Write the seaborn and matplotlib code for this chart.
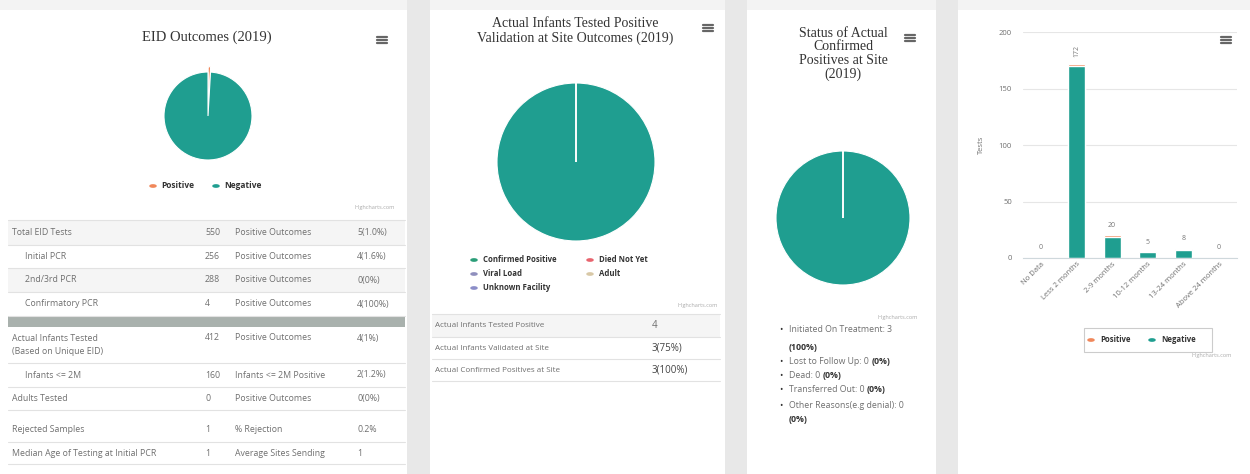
import numpy as np
import pandas as pd
import seaborn as sns
import matplotlib
matplotlib.use("Agg")
import matplotlib.pyplot as plt
from matplotlib.patches import Rectangle, Circle
from matplotlib.lines import Line2D
from matplotlib.transforms import offset_copy

# ---------------------------------------------------------------- data
eid_labels = ["Positive", "Negative"]
eid_values = [5, 545]

val_labels = ["Confirmed Positive", "Died Not Yet", "Viral Load", "Adult", "Unknown Facility"]
val_values = [4, 0, 0, 0, 0]

status_labels = ["Initiated On Treatment", "Lost to Follow Up", "Dead", "Transferred Out",
                 "Other Reasons(e.g denial)"]
status_values = [3, 0, 0, 0, 0]
status_text = ["Initiated On Treatment: 3 ", "Lost to Follow Up: 0 ", "Dead: 0 ",
               "Transferred Out: 0 ", "Other Reasons(e.g denial): 0 "]
status_pct = ["(100%)", "(0%)", "(0%)", "(0%)", "(0%)"]

age_cats = ["No Data", "Less 2 months", "2-9 months", "10-12 months", "13-24 months", "Above 24 months"]
age_pos = [0, 2, 1, 0, 1, 0]
age_neg = [0, 170, 19, 5, 7, 0]

tbl_label = ["Total EID Tests", "Initial PCR", "2nd/3rd PCR", "Confirmatory PCR",
             "Actual Infants Tested\n(Based on Unique EID)", "Infants <= 2M", "Adults Tested",
             "Rejected Samples", "Median Age of Testing at Initial PCR"]
tbl_num = ["550", "256", "288", "4", "412", "160", "0", "1", "1"]
tbl_label2 = ["Positive Outcomes", "Positive Outcomes", "Positive Outcomes", "Positive Outcomes",
              "Positive Outcomes", "Infants <= 2M Positive", "Positive Outcomes", "% Rejection",
              "Average Sites Sending"]
tbl_val = ["5(1.0%)", "4(1.6%)", "0(0%)", "4(100%)", "4(1%)", "2(1.2%)", "0(0%)", "0.2%", "1"]

site_label = ["Actual Infants Tested Positive", "Actual Infants Validated at Site",
              "Actual Confirmed Positives at Site"]
site_val = ["4", "3(75%)", "3(100%)"]

# ---------------------------------------------------------------- style
TEAL = "#1f9e90"
ORANGE = "#f0875a"
leg_colors = ["#2a9d78", "#e8646e", "#8f8fbd", "#d8c8a6", "#8b8dc8"]
GRAY = "#6f6f6f"
W, H = 1250, 474

sns.set_theme(style="white")
plt.rcParams["font.family"] = ["Open Sans", "DejaVu Sans"]

fig = plt.figure(figsize=(W / 100, H / 100), dpi=100)
fig.patch.set_facecolor("white")


def fx(x):
    return x / W


def fy(y):
    return 1 - y / H


def txt(x, y, s, **kw):
    kw.setdefault("color", GRAY)
    kw.setdefault("fontsize", 6.3)
    kw.setdefault("va", "center")
    return fig.text(fx(x), fy(y), s, **kw)


def rect(x0, y0, x1, y1, color, z=0):
    fig.patches.append(Rectangle((fx(x0), fy(y1)), fx(x1) - fx(x0), fy(y0) - fy(y1),
                                 transform=fig.transFigure, color=color, zorder=z, lw=0))


def hline(x0, x1, y, color="#e2e2e2", lw=0.8):
    fig.add_artist(Line2D([fx(x0), fx(x1)], [fy(y), fy(y)], color=color, lw=lw))


def burger(x, y):
    for dy in (-3, 0, 3):
        hline(x - 5, x + 5, y + dy, color="#666666", lw=1.6)


def credits(x, y):
    txt(x, y, "Highcharts.com", fontsize=4, color="#aaaaaa", ha="right")


def pie_axes(cx, cy, r):
    # square axes whose data range -1..1 maps onto the given circle
    ax = fig.add_axes([fx(cx - r), fy(cy + r), 2 * r / W, 2 * r / H])
    return ax


def fix_pie(ax):
    ax.set_xlim(-1, 1)
    ax.set_ylim(-1, 1)
    ax.set_aspect("equal")
    ax.axis("off")


# page background: gaps between cards
rect(0, 0, W, 10, "#f3f3f3")
for g0, g1 in [(407, 430), (725, 747), (936, 958)]:
    rect(g0, 0, g1, H, "#e8e8e8")

TITLE_FONT = ["Liberation Serif", "DejaVu Serif"]

# ---------------------------------------------------------------- card 1
txt(207, 37, "EID Outcomes (2019)", ha="center", fontsize=10.5, color="#333333", family=TITLE_FONT)
burger(382, 40)
ax1 = pie_axes(208, 116, 44)
ax1.pie(eid_values, colors=[ORANGE, TEAL], startangle=90, counterclock=False,
        explode=[0.12, 0], wedgeprops=dict(edgecolor="white", linewidth=0.8), frame=False)
fix_pie(ax1)
ax1.set_ylim(-1, 1)
for p in ax1.patches:
    p.set_clip_on(False)
for lab, col, x in zip(eid_labels, [ORANGE, TEAL], [153, 216]):
    fig.patches.append(Circle((fx(x), fy(186)), 3 / W, transform=fig.transFigure, color=col))
    txt(x + 8, 186, lab, color="#333333", fontweight="bold", fontsize=6)
credits(395, 207)

row_bounds = [(220, 245), (245, 268), (268, 292), (292, 316), (327, 363), (363, 387),
              (387, 410), (418, 442), (442, 464)]
indent = [12, 25, 25, 25, 12, 25, 12, 12, 12]
for i, (y0, y1) in enumerate(row_bounds):
    if i in (0, 2):
        rect(8, y0, 405, y1, "#f5f5f5")
    hline(8, 405, y1)
    yc = (y0 + y1) / 2
    txt(indent[i], yc, tbl_label[i], linespacing=1.6)
    ynum = y0 + 11 if i == 4 else yc
    txt(205, ynum, tbl_num[i])
    txt(235, ynum, tbl_label2[i])
    txt(357, ynum, tbl_val[i])
hline(8, 405, 220)
rect(8, 316, 405, 327, "#a9b1ad")

# ---------------------------------------------------------------- card 2
txt(575, 31, "Actual Infants Tested Positive\nValidation at Site Outcomes (2019)", ha="center",
    fontsize=10, color="#333333", family=TITLE_FONT, linespacing=1.2, va="center")
burger(708, 28)
ax2 = pie_axes(576, 162, 79)
ax2.pie(val_values, colors=[TEAL] + leg_colors[1:], startangle=90, counterclock=False,
        wedgeprops=dict(edgecolor="white", linewidth=0.8), frame=False)
fix_pie(ax2)
leg_pos = [(474, 260), (590, 260), (474, 274), (590, 274), (474, 288)]
for lab, col, (x, y) in zip(val_labels, leg_colors, leg_pos):
    fig.patches.append(Circle((fx(x), fy(y)), 3 / W, transform=fig.transFigure, color=col))
    txt(x + 9, y, lab, color="#333333", fontweight="bold", fontsize=5.6)
credits(718, 306)
site_rows = [(314, 337), (337, 359), (359, 381)]
for i, (y0, y1) in enumerate(site_rows):
    if i == 0:
        rect(432, y0, 720, y1, "#f5f5f5")
    hline(432, 720, y1)
    yc = (y0 + y1) / 2
    txt(435, yc, site_label[i], fontsize=5.8)
    txt(652, yc, site_val[i], fontsize=7, color="#444444" if i else GRAY)
hline(432, 720, 314)

# ---------------------------------------------------------------- card 3
txt(843, 54, "Status of Actual\nConfirmed\nPositives at Site\n(2019)", ha="center", fontsize=10,
    color="#333333", family=TITLE_FONT, linespacing=1.05)
burger(910, 38)
ax3 = pie_axes(843, 218, 67)
ax3.pie(status_values, colors=[TEAL, ORANGE, "#8f8fbd", "#d8c8a6", "#8b8dc8"], startangle=90,
        counterclock=False, wedgeprops=dict(edgecolor="white", linewidth=0.8), frame=False)
fix_pie(ax3)
credits(918, 318)
bullet_y = [(330, 347), (361, None), (375, None), (389, None), (406, 420)]
fig.canvas.draw()
renderer = fig.canvas.get_renderer()
for s, p, (y, y2) in zip(status_text, status_pct, bullet_y):
    txt(779, y, "\u2022", fontsize=6.5, color="#333333")
    t = txt(789, y, s, fontsize=6.3)
    if y2 is None:
        wpx = t.get_window_extent(renderer).width
        txt(789 + wpx, y, p, fontsize=6.3, fontweight="bold", color="#333333")
    else:
        txt(789, y2, p, fontsize=6.3, fontweight="bold", color="#333333")

# ---------------------------------------------------------------- card 4
df = pd.DataFrame({"cat": age_cats, "pos": age_pos, "neg": age_neg})
df["total"] = df["pos"] + df["neg"]
ax4 = fig.add_axes([fx(1023), fy(258), fx(214), (258 - 32) / H])
sns.barplot(data=df, x="cat", y="total", color=ORANGE, width=0.48, ax=ax4, saturation=1)
sns.barplot(data=df, x="cat", y="neg", color=TEAL, width=0.48, ax=ax4, saturation=1)
ax4.set_ylim(0, 200)
ax4.set_yticks([0, 50, 100, 150, 200])
ax4.yaxis.grid(True, color="#e6e6e6", lw=0.8)
ax4.set_axisbelow(True)
for s in ["top", "right", "left"]:
    ax4.spines[s].set_visible(False)
ax4.spines["bottom"].set_color("#cfd8dc")
ax4.spines["bottom"].set_linewidth(0.8)
ax4.tick_params(axis="y", labelsize=5.5, colors=GRAY, length=0, pad=8)
ax4.tick_params(axis="x", labelsize=5.5, colors=GRAY, length=0, pad=2)
ax4.set_xticks(range(len(age_cats)))
ax4.set_xticklabels(age_cats, rotation=45, ha="right", rotation_mode="anchor")
ax4.set_xlabel("")
ax4.set_ylabel("Tests", fontsize=5.5, color=GRAY, labelpad=10)
ax4.set_facecolor("none")
for i, t in enumerate(df["total"]):
    ax4.text(i, t + 6, str(t), ha="center", va="bottom", fontsize=5, color="#777777",
             rotation=90 if t > 100 else 0)
burger(1226, 40)
fig.add_artist(Rectangle((fx(1084), fy(352)), fx(128), 24 / H, transform=fig.transFigure,
                         facecolor="white", edgecolor="#cccccc", lw=0.8, zorder=5))
for lab, col, x in zip(eid_labels, [ORANGE, TEAL], [1091, 1152]):
    fig.add_artist(Circle((fx(x), fy(340)), 3 / W, transform=fig.transFigure, color=col, zorder=6))
    txt(x + 9, 340, lab, color="#333333", fontweight="bold", fontsize=5.6, zorder=6)
credits(1232, 356)

fig.savefig("out.png", dpi=100)
